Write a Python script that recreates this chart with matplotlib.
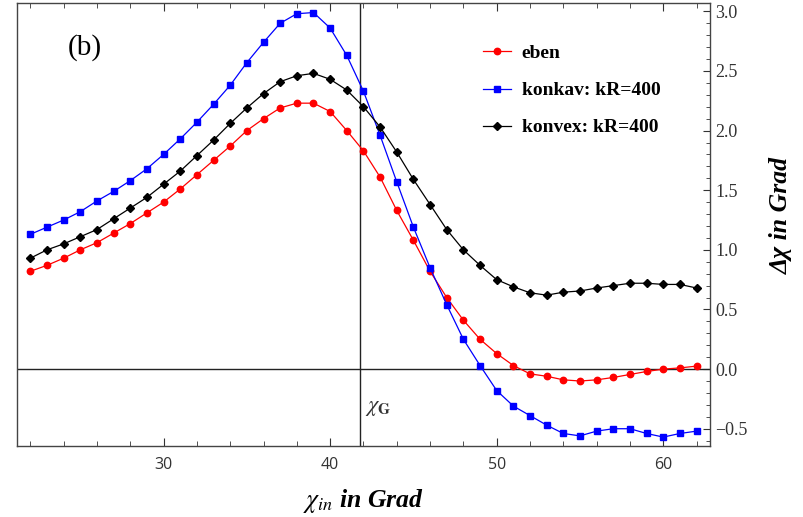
import matplotlib
matplotlib.use("Agg")
import matplotlib.pyplot as plt
from matplotlib.ticker import MultipleLocator

# chi_in in degrees
chi_in = list(range(22, 63))

eben = [0.82, 0.87, 0.93, 1.00, 1.06, 1.14, 1.22, 1.31, 1.40, 1.51,
        1.63, 1.75, 1.87, 2.00, 2.10, 2.19, 2.23, 2.23, 2.16, 2.00,
        1.83, 1.61, 1.33, 1.08, 0.82, 0.60, 0.41, 0.25, 0.13, 0.03,
        -0.04, -0.06, -0.09, -0.10, -0.09, -0.07, -0.045, -0.02, 0.0, 0.01,
        0.025]
konkav = [1.13, 1.19, 1.25, 1.32, 1.41, 1.49, 1.58, 1.68, 1.80, 1.93,
          2.07, 2.22, 2.38, 2.57, 2.74, 2.90, 2.98, 2.99, 2.86, 2.63,
          2.33, 1.96, 1.57, 1.19, 0.85, 0.54, 0.25, 0.03, -0.18, -0.31,
          -0.39, -0.47, -0.54, -0.56, -0.52, -0.50, -0.50, -0.54, -0.57, -0.54,
          -0.52]
konvex = [0.93, 1.00, 1.05, 1.11, 1.17, 1.26, 1.35, 1.44, 1.55, 1.66,
          1.79, 1.92, 2.06, 2.19, 2.31, 2.41, 2.46, 2.48, 2.43, 2.34,
          2.20, 2.03, 1.82, 1.59, 1.38, 1.17, 1.00, 0.87, 0.75, 0.69,
          0.64, 0.62, 0.645, 0.655, 0.68, 0.70, 0.72, 0.72, 0.71, 0.71,
          0.68]
chi_G = 41.8

labels = ["eben", "konkav: kR=400", "konvex: kR=400"]

plt.rcParams["mathtext.fontset"] = "stix"

fig = plt.figure(figsize=(8.04, 5.17), dpi=100)
ax = fig.add_axes([0.0211, 0.1373, 0.8619, 0.8569])

ax.plot(chi_in, eben, color="#ff0000", lw=0.9, marker="o", ms=4.6,
        label=labels[0], zorder=3)
ax.plot(chi_in, konkav, color="#0000ff", lw=0.9, marker="s", ms=4.0,
        label=labels[1], zorder=3)
ax.plot(chi_in, konvex, color="#000000", lw=0.9, marker="D", ms=3.6,
        label=labels[2], zorder=3)

ax.axvline(chi_G, color="#222222", lw=1.0, zorder=2)
ax.axhline(0, color="#222222", lw=1.0, zorder=2)

ax.set_xlim(21.2, 62.8)
ax.set_ylim(-0.645, 3.07)

ax.xaxis.set_major_locator(MultipleLocator(10))
ax.xaxis.set_minor_locator(MultipleLocator(2))
ax.yaxis.set_major_locator(MultipleLocator(0.5))
ax.yaxis.set_minor_locator(MultipleLocator(0.1))
ax.yaxis.tick_right()
ax.yaxis.set_label_position("right")
ax.tick_params(axis="x", which="both", direction="in", top=True, bottom=True,
               colors="#333333")
ax.tick_params(axis="x", which="major", length=6, labelsize=11.5, pad=8)
ax.tick_params(axis="x", which="minor", length=3.5)
ax.tick_params(axis="y", which="both", direction="in", left=False, right=True,
               colors="#333333")
ax.tick_params(axis="y", which="major", length=5, labelsize=13, pad=4)
ax.tick_params(axis="y", which="minor", length=3)
for t in ax.get_xticklabels():
    t.set_fontfamily("Open Sans")
for t in ax.get_yticklabels():
    t.set_fontfamily("Liberation Serif")
for s in ax.spines.values():
    s.set_color("#444444")
    s.set_linewidth(1.0)

ax.set_xlabel(r"$\chi_{in}$ in Grad", fontsize=18.5, family="Liberation Serif",
              weight="bold", style="italic")
ax.xaxis.set_label_coords(0.5, -0.093)
ax.set_ylabel("Δχ in Grad", fontsize=18.5, family="Liberation Serif",
              weight="bold", style="italic", rotation=90)
ax.yaxis.set_label_coords(1.087, 0.52)

ax.text(chi_G + 0.3, -0.33, r"$\chi_\mathbf{G}$", fontsize=16,
        color="#333333", va="center", ha="left")
ax.text(25.3, 2.70, "(b)", fontsize=21, family="Liberation Serif",
        ha="center", va="center")

leg = ax.legend(loc="upper left", bbox_to_anchor=(0.672, 0.906), frameon=False,
                borderaxespad=0, borderpad=0, handlelength=1.45,
                handletextpad=0.55, labelspacing=1.0,
                prop={"family": "Liberation Serif", "weight": "bold", "size": 14})

fig.savefig("out.png", dpi=100)
